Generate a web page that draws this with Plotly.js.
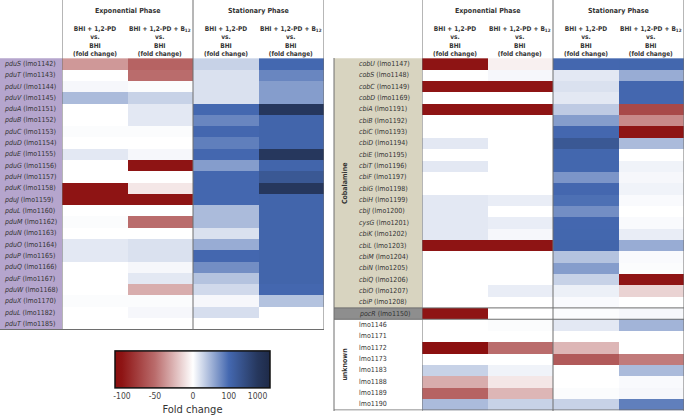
<!DOCTYPE html>
<html>
<head>
<meta charset="utf-8">
<script src="https://cdn.plot.ly/plotly-3.0.1.min.js"></script>
<style>
  html, body { margin: 0; padding: 0; background: #fff; }
  #chart { width: 685px; height: 417px; }
</style>
</head>
<body>
<div id="chart"></div>
<script>
// ===== data (fold change) =====
const columnKeys = [0, 1, 2, 3];
const colHeaderTop = ['BHI + 1,2-PD', 'BHI + 1,2-PD + B<sub>12</sub>', 'BHI + 1,2-PD', 'BHI + 1,2-PD + B<sub>12</sub>'];
const phaseNames = ['Exponential Phase', 'Stationary Phase'];

const leftGenes = ['pduS','pduT','pduU','pduV','pduA','pduB','pduC','pduD','pduE','pduG','pduH','pduK','pduJ','pduL','pduM','pduN','pduO','pduP','pduQ','pduF','pduW','pduX','pduL','pduT'];
const leftLocus = ['lmo1142','lmo1143','lmo1144','lmo1145','lmo1151','lmo1152','lmo1153','lmo1154','lmo1155','lmo1156','lmo1157','lmo1158','lmo1159','lmo1160','lmo1162','lmo1163','lmo1164','lmo1165','lmo1166','lmo1167','lmo1168','lmo1170','lmo1182','lmo1185'];
const leftExpPD    = [-35, 0, 5, 45, 0, 0, 2, 0, 15, 0, 0, -100, -100, 0, 2, 0, 15, 15, 0, 0, 0, 2, 0, 0];
const leftExpB12   = [-55, -50, 2, 30, 15, 15, 2, 0, 5, -100, 0, -8, -100, 0, -50, 0, 20, 20, 5, 15, -28, 2, 5, 0];
const leftStatPD   = [30, 20, 20, 20, 100, 80, 110, 85, 110, 65, 110, 110, 110, 45, 45, 20, 55, 110, 75, 40, 25, 5, 22, 0];
const leftStatB12  = [100, 80, 65, 65, 1000, 150, 150, 150, 1000, 150, 400, 1000, 150, 150, 150, 150, 150, 150, 150, 150, 110, 40, 0, 0];

const rightGenes = ['cobU','cobS','cobC','cobD','cbiA','cbiB','cbiC','cbiD','cbiE','cbiT','cbiF','cbiG','cbiH','cbiJ','cysG','cbiK','cbiL','cbiM','cbiN','cbiQ','cbiO','cbiP','pocR','','','','','','','',''];
const rightLocus = ['lmo1147','lmo1148','lmo1149','lmo1169','lmo1191','lmo1192','lmo1193','lmo1194','lmo1195','lmo1196','lmo1197','lmo1198','lmo1199','lmo1200','lmo1201','lmo1202','lmo1203','lmo1204','lmo1205','lmo1206','lmo1207','lmo1208','lmo1150','lmo1146','lmo1171','lmo1172','lmo1173','lmo1183','lmo1188','lmo1189','lmo1190'];
const rightExpPD   = [-100, 0, -100, 0, -100, 0, 0, 15, 0, 15, 0, 0, 15, 15, 15, 15, -100, 0, 0, 0, 0, 0, -100, 0, 0, -120, 0, 30, -28, -55, 45];
const rightExpB12  = [-5, 5, -100, 0, -100, 0, 0, 0, 0, 0, 0, 0, 12, 0, 12, 5, -100, 0, 0, 0, 12, 0, 0, 2, 0, -50, 0, 8, -8, -25, 30];
const rightStatPD  = [110, 15, 20, 15, 35, 65, 110, 400, 120, 120, 70, 110, 95, 75, 110, 120, 150, 40, 65, 30, 10, 3, 2, 15, 0, -25, -60, 0, 0, 2, 30];
const rightStatB12 = [120, 55, 110, 110, -70, -40, -100, 45, 0, 8, 5, 8, 3, 0, 3, 12, 55, 3, 2, -100, -15, 0, 5, 50, 0, 0, -45, 45, 3, 5, 85];

const cobalaminRows = 22;   // cobU .. cbiP
const pocRRow = 22;

// colour bar tick labels
const cbTickLabels = [-100, -50, 0, 100, 1000];

// ===== helpers =====
const W = 685, H = 417;
const px = x => x / W;
const py = y => 1 - y / H;

// fold change -> position on the (non-linear) colour bar
const knots = [[-130, 0], [-100, 0.045], [-50, 0.258], [0, 0.503], [100, 0.735], [1000, 0.92], [1400, 1]];
function toScale(v) {
    if (v <= knots[0][0]) return 0;
    for (let i = 1; i < knots.length; i++) {
        const [a, ta] = knots[i - 1], [b, tb] = knots[i];
        if (v <= b) return ta + (v - a) / (b - a) * (tb - ta);
    }
    return 1;
}
const toZ = cols => cols[0].map((_, r) => cols.map(c => toScale(c[r])));

const FONT = '"Liberation Sans Narrow", "DejaVu Sans Condensed", "Liberation Sans", sans-serif';
const LINE = '#6e6e6e';

const leftZ = toZ([leftExpPD, leftExpB12, leftStatPD, leftStatB12]);
const rightZ = toZ([rightExpPD, rightExpB12, rightStatPD, rightStatB12]);

const data = [
    {
        type: 'heatmap', x: columnKeys, y: leftLocus, z: leftZ,
        coloraxis: 'coloraxis', xaxis: 'x', yaxis: 'y', hoverinfo: 'skip'
    },
    {
        type: 'heatmap', x: columnKeys, y: rightLocus, z: rightZ,
        coloraxis: 'coloraxis', xaxis: 'x2', yaxis: 'y2', hoverinfo: 'skip'
    }
];

// ===== annotations: headers + row labels =====
const annotations = [];
const lbl = (g, l) => g ? `<i>${g}</i> (${l})` : l;

['x', 'x2'].forEach(xr => {
    phaseNames.forEach((p, i) => annotations.push({
        xref: xr, yref: 'paper', x: 0.5 + 2 * i, y: py(11), text: p,
        showarrow: false, xanchor: 'center', yanchor: 'middle',
        font: { family: FONT, size: 7, color: '#333', weight: 'bold' }
    }));
    columnKeys.forEach(c => annotations.push({
        xref: xr, yref: 'paper', x: c, y: py(41.5),
        text: `${colHeaderTop[c]}<br>vs.<br>BHI<br>(fold change)`,
        showarrow: false, xanchor: 'center', yanchor: 'middle',
        font: { family: FONT, size: 6.5, color: '#333', weight: 'bold' }
    }));
});

leftLocus.forEach((l, i) => annotations.push({
    xref: 'paper', yref: 'y', x: px(1.5), y: l, text: lbl(leftGenes[i], l),
    showarrow: false, xanchor: 'left', yanchor: 'middle',
    font: { family: FONT, size: 7, color: '#333' }
}));
rightLocus.forEach((l, i) => annotations.push({
    xref: 'paper', yref: 'y2', x: px(357), y: l, text: lbl(rightGenes[i], l),
    showarrow: false, xanchor: 'left', yanchor: 'middle',
    font: { family: FONT, size: 7, color: '#333' }
}));
annotations.push(
    { xref: 'paper', yref: 'y2', x: px(345), y: (cobalaminRows - 1) / 2, text: 'Cobalamine', textangle: -90,
      showarrow: false, font: { family: FONT, size: 7, color: '#333', weight: 'bold' } },
    { xref: 'paper', yref: 'y2', x: px(345), y: (pocRRow + 1 + rightLocus.length - 1) / 2, text: 'unknown', textangle: -90,
      showarrow: false, font: { family: FONT, size: 7, color: '#333', weight: 'bold' } }
);

// ===== shapes: label backgrounds + table rules =====
const nL = leftLocus.length, nR = rightLocus.length;
const rect = (x0, x1, yref, y0, y1, color) => ({ type: 'rect', layer: 'below', xref: 'paper', yref, x0, x1, y0, y1, fillcolor: color, line: { width: 0 } });
const vline = (xref, x, y0, y1) => ({ type: 'line', xref, yref: 'paper', x0: x, x1: x, y0, y1, line: { color: LINE, width: 1 } });
const hline = (yref, y, x0, x1) => ({ type: 'line', xref: 'paper', yref, x0, x1, y0: y, y1: y, line: { color: LINE, width: 1 } });

const shapes = [
    rect(0, px(62), 'y', -0.5, nL - 0.5, '#b5a5cd'),
    rect(px(334), px(422), 'y2', -0.5, cobalaminRows - 0.5, '#d8d4c0'),
    rect(px(334), px(422), 'y2', pocRRow - 0.5, pocRRow + 0.5, '#8e8e8e'),
    vline('x', -0.5, py(330), 1), vline('x', 1.5, py(330), 1), vline('x', 3.5, py(330), 1),
    hline('y', nL - 0.5, 0, px(324)),
    vline('x2', -0.5, py(411), 1), vline('x2', 1.5, py(411), 1), vline('x2', 3.5, py(411), 1),
    vline('paper', px(334), py(411), py(58)),
    hline('y2', nR - 0.5, px(334), px(684)),
    hline('y2', pocRRow - 0.5, px(334), px(684)),
    hline('y2', pocRRow + 0.5, px(334), px(684))
];

const xax = dom => ({ domain: dom, range: [-0.5, 3.5], visible: false, fixedrange: true });
const yax = dom => ({ domain: dom, type: 'category', autorange: 'reversed', visible: false, fixedrange: true });

const layout = {
    width: W, height: H,
    margin: { l: 0, r: 0, t: 0, b: 0 },
    paper_bgcolor: '#fff', plot_bgcolor: '#fff',
    font: { family: FONT, color: '#333' },
    xaxis: xax([px(62), px(324)]),
    yaxis: yax([py(330), py(58)]),
    xaxis2: xax([px(422), px(684)]),
    yaxis2: yax([py(410.5), py(58)]),
    coloraxis: {
        cmin: 0, cmax: 1,
        colorscale: [
            [0, '#8a0e0e'], [0.045, '#8e1414'], [0.258, '#ba6c6c'], [0.503, '#ffffff'],
            [0.735, '#4468b0'], [0.92, '#26375d'], [1, '#1e2a48']
        ],
        colorbar: {
            orientation: 'h',
            x: px(192.5), xanchor: 'center',
            y: py(384), yanchor: 'middle',
            len: 155, lenmode: 'pixels',
            thickness: 37, thicknessmode: 'pixels',
            xpad: 0, ypad: 0,
            outlinewidth: 1.5, outlinecolor: '#111',
            tickvals: cbTickLabels.map(toScale),
            ticktext: cbTickLabels.map(String),
            ticks: '',
            tickfont: { family: FONT, size: 8.5, color: '#444' },
            title: { text: 'Fold change', side: 'bottom', font: { family: FONT, size: 11, color: '#333' } }
        }
    },
    shapes,
    annotations
};

Plotly.newPlot('chart', data, layout, { displayModeBar: false, staticPlot: true });
</script>
</body>
</html>
